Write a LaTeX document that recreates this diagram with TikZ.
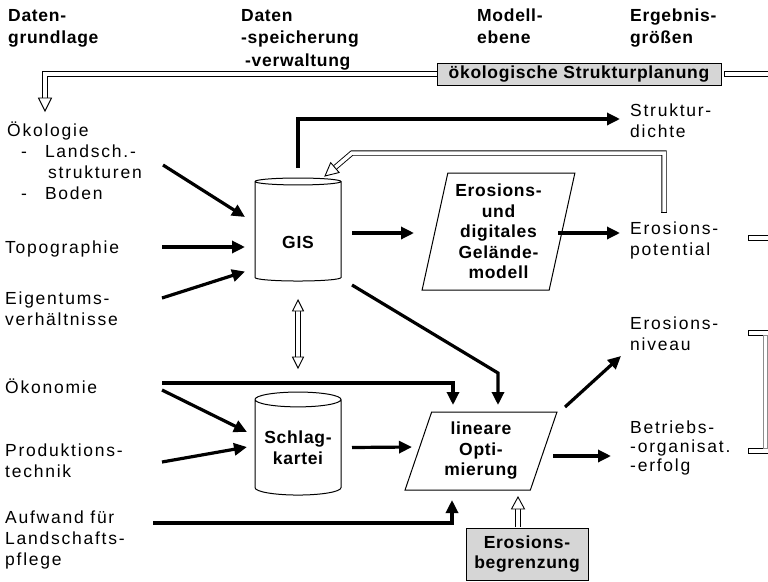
\documentclass[tikz,border=0pt]{standalone}
\usepackage{fontspec}
\setmainfont{Liberation Sans}[LetterSpace=10, BoldFeatures={LetterSpace=4}]
\usetikzlibrary{arrows.meta,shapes.geometric,calc}
\newcommand\TxtFont{\fontsize{17.5}{21}\selectfont}
\newcommand\BoldFont{\fontsize{17.5}{20.5}\selectfont\bfseries}
\newcommand\HollowTip[4]{\begin{scope}[shift={#1},rotate=#2]\draw[tipst] (0,0) -- (-#3,#4) -- (-#3,-#4) -- cycle;\end{scope}}
\begin{document}
\begin{tikzpicture}[x=1pt,y=-1pt, font=\TxtFont,
  lbl/.style={inner sep=0pt, align=left, anchor=base west},
  hdr/.style={lbl, font=\fontsize{17.5}{22.5}\selectfont\bfseries},
  thk/.style={line width=3.2pt, -{Triangle[length=13pt,width=12pt]}},
  dbl/.style={double=white, double distance=3.5pt, line width=0.9pt, draw=black},
  tipst/.style={fill=white, draw=black, line width=0.9pt, line join=miter},
  stub/.style={fill=white, draw=black, line width=0.9pt},
  shade/.style={draw=black, line width=1pt, fill=black!16, font=\BoldFont, inner sep=0pt, align=center},
  db/.style={cylinder, shape border rotate=90, aspect=0.22, draw, line width=1pt, minimum width=86pt, minimum height=103pt, inner sep=0pt, font=\BoldFont, align=center},
  para/.style={trapezium, trapezium stretches=true, draw, line width=1pt, align=center, inner sep=0pt, font=\BoldFont}
]
\useasboundingbox (0,0) rectangle (768,581);

% headers (base anchor = last line)
\node[hdr] (h1) at (8,43.5) {Daten-\\grundlage};
\node[hdr] (h2) at (241,66) {Daten\\-speicherung\\\hspace*{4pt}-verwaltung};
\node[hdr] (h3) at (477,43.5) {Modell-\\ebene};
\node[hdr] (h4) at (630,43.5) {Ergebnis-\\größen};

% left column
\node[lbl] (oeko) at (7,199) {Ökologie\\\hspace*{14pt}-\hspace*{18pt}Landsch.-\\\hspace*{41pt}strukturen\\\hspace*{14pt}-\hspace*{18pt}Boden};
\node[lbl] (topo) at (5,253) {Topographie};
\node[lbl] (eigen) at (5,325) {Eigentums-\\verhältnisse};
\node[lbl] (oekon) at (5,393) {Ökonomie};
\node[lbl] (prod) at (5,477) {Produktions-\\technik};
\node[lbl] (aufw) at (5,565) {Aufwand für\\Landschafts-\\pflege};

% right column
\node[lbl] (strukt) at (630,137) {Struktur-\\dichte};
\node[lbl] (pot) at (630,255) {Erosions-\\potential};
\node[lbl] (niv) at (630,350) {Erosions-\\niveau};
\node[lbl, font=\fontsize{17.5}{19}\selectfont] (betr) at (630,471) {Betriebs-\\-organisat.\\-erfolg};

% shapes
\node[db] (gis) at (298,231.5) {\raisebox{-17pt}[0pt][0pt]{GIS}};
\node[db] (schlag) at (298,447.5) {Schlag-\\kartei};
\node[para, trapezium left angle=77, trapezium right angle=103, minimum width=153pt, minimum height=117pt] (ero) at (498.5,231.5) {Erosions-\\und\\digitales\\Gelände-\\modell};
\node[para, trapezium left angle=71, trapezium right angle=109, minimum width=152pt, minimum height=78pt] (lin) at (481,451) {lineare\\Opti-\\mierung};

% hollow connectors (drawn before shaded boxes)
\draw[dbl] (437,74) -- (45,74) -- (45,98);
\HollowTip{(45,111)}{-90}{13}{6.5}
\draw[stub] (724,71.35) rectangle (775,76.65);

\draw[dbl] ($(pot.base west)+(34,-43)$) -- (664,153) -- (352,153) -- (334.9,167.6);
\draw[line width=0.9pt] (661.35,212) -- (666.65,212);
\HollowTip{(325,176)}{-139.6}{13}{6.5}

\draw[dbl] ($(gis.center)+(0,79.5)$) -- ($(schlag.center)+(0,-90.5)$);
\HollowTip{(298,300)}{90}{11}{5.5}
\HollowTip{(298,368)}{-90}{11}{5.5}

% shaded boxes
\node[shade, minimum width=284pt, minimum height=22pt] (oesp) at (579,74) {ökologische Strukturplanung};
\node[shade, minimum width=122pt, minimum height=52pt] (begr) at (527,554) {Erosions-\\begrenzung};

\draw[dbl] ($(begr.north)+(-9,-0.5)$) -- (518,509);
\HollowTip{(518,497)}{90}{12}{6.5}

% right stubs
\draw[stub] (748,235.35) rectangle (775,240.65);
\draw[stub] (748,330.35) rectangle (775,335.65);
\draw[stub] (748,448.35) rectangle (775,453.65);
\draw[draw=black!45, line width=0.6pt] (763.5,335.65) rectangle (767,448.35);

% start coordinates
\coordinate (a1) at (163,165);
\coordinate (a2) at (162,247);
\coordinate (a3) at (162,298);
\coordinate (a4) at (162,383);
\coordinate (a5) at (162,390);
\coordinate (a6) at (162,462);
\coordinate (a7) at (153,523);
\coordinate (k1) at (498,373);

% thick connectors
\draw[thk] (a1) -- ($(gis.center)+(-53,-14.5)$);
\draw[thk] (a2) -- ($(gis.center)+(-53,15.5)$);
\draw[thk] (a3) -- ($(gis.center)+(-53,40)$);
\draw[thk] ($(gis.center)+(54,1.5)$) -- ($(ero.center)+(-84.5,1.5)$);
\draw[thk] ($(ero.center)+(59.5,1.5)$) -- ($(pot.base west)+(-10,-22)$);
\draw[thk] ($(gis.center)+(0,-63.5)$) |- ($(strukt.base west)+(-10,-18)$);
\draw[thk] ($(gis.center)+(54,53.5)$) -- (k1) -- ($(lin.center)+(17,-46)$);
\draw[thk] (a4) -| ($(lin.center)+(-28,-46)$);
\draw[thk] (a5) -- ($(schlag.center)+(-51,-15.5)$);
\draw[thk] (a6) -- ($(schlag.center)+(-51,-0.5)$);
\draw[thk] ($(schlag.center)+(54,0)$) -- ($(lin.center)+(-69,-4)$);
\draw[thk] (a7) -| ($(lin.center)+(-29,49)$);
\draw[thk] ($(lin.center)+(84,-44)$) -- ($(niv.base west)+(-9,6)$);
\draw[thk] ($(lin.center)+(72,5)$) -- ($(betr.base west)+(-19,-15)$);
\end{tikzpicture}
\end{document}
